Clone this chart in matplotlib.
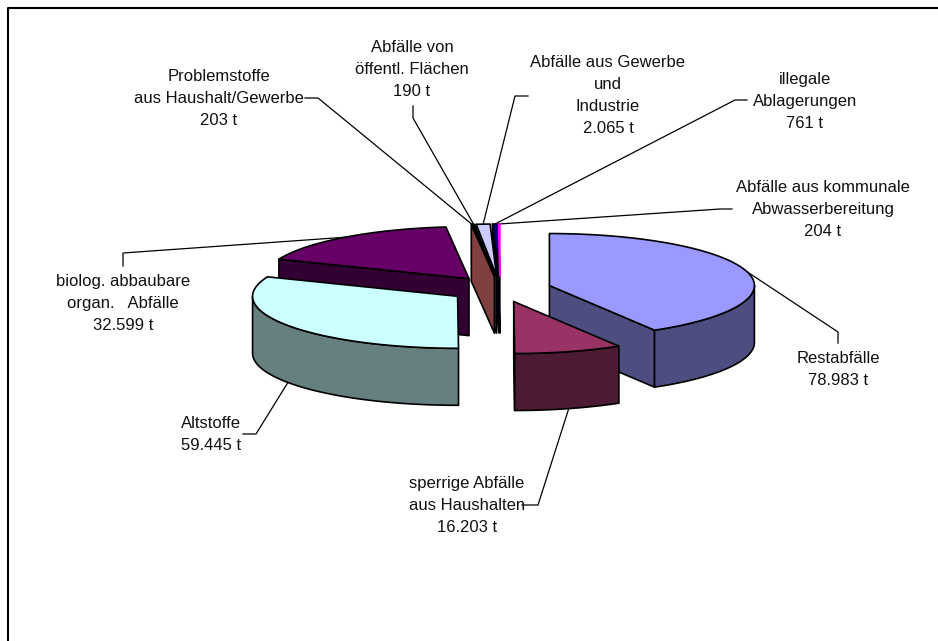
import numpy as np
import matplotlib
matplotlib.use('Agg')
import matplotlib.pyplot as plt
from matplotlib.patches import Polygon
from matplotlib.colors import to_rgb

# ===== data =====
labels = [
    'Restabfälle\n78.983 t',
    'sperrige Abfälle\naus Haushalten\n16.203 t',
    'Altstoffe\n59.445 t',
    'biolog. abbaubare\norgan.   Abfälle\n32.599 t',
    'Problemstoffe\naus Haushalt/Gewerbe\n203 t',
    'Abfälle von\nöffentl. Flächen\n190 t',
    'Abfälle aus Gewerbe\nund\nIndustrie\n2.065 t',
    'illegale\nAblagerungen\n761 t',
    'Abfälle aus kommunale\nAbwasserbereitung\n204 t',
]
tonnen = [78983, 16203, 59445, 32599, 203, 190, 2065, 761, 204]
farben = ['#9999FF', '#993366', '#CCFFFF', '#660066', '#FF8080',
          '#0066CC', '#CCCCFF', '#000080', '#FF00FF']

# ===== layout (pixels of the 938x641 picture) =====
CX, CY = 500, 289
RX, RY = 205, 52
TIEFE = 57
EXPLODE = 0.25

label_pos = [(838, 369.5), (467, 505.5), (211, 434.5), (123, 303.5), (219, 98.5),
             (412, 69.5), (608, 95.5), (805, 101.5), (823, 209.5)]
# leader: start at the label, elbow, then goes to the slice
leader_pos = [
    [(838, 343), (838, 332)],
    [(522, 505), (538, 505)],
    [(243, 434), (256, 434)],
    [(123, 266), (123, 253)],
    [(305, 98), (318, 98)],
    [(413, 106), (413, 118)],
    [(528, 96), (515, 96)],
    [(747, 100), (735, 100)],
    [(732, 209), (720, 209)],
]

plt.rcParams['font.family'] = ['Liberation Sans', 'DejaVu Sans']

fig = plt.figure(figsize=(9.38, 6.41), dpi=100)
ax = fig.add_axes([0, 0, 1, 1])
ax.set_xlim(0, 938)
ax.set_ylim(641, 0)
ax.axis('off')

# frame, only top and left are inside the picture
ax.plot([7.5, 7.5, 938], [641, 7.5, 7.5], color='black', lw=1.5, zorder=1)

grad = np.array(tonnen) / sum(tonnen) * 360
ende = np.cumsum(grad)
start = ende - grad


def tip(mid):
    m = np.radians(mid)
    return (CX + EXPLODE * RX * np.sin(m), CY - EXPLODE * RY * np.cos(m))


def rand(t, w, unten=False):
    w = np.radians(w)
    return np.column_stack([t[0] + RX * np.sin(w),
                            t[1] - RY * np.cos(w) + (TIEFE if unten else 0)])


def flaeche(pts, farbe, z, kante='black'):
    ax.add_patch(Polygon(pts, closed=True, facecolor=farbe, edgecolor=kante,
                         lw=1.2, joinstyle='round', zorder=z))


def zeichne(i, z):
    a, b = start[i], ende[i]
    t = tip((a + b) / 2)
    top = to_rgb(farben[i])
    seite = tuple(c * 0.5 for c in top)
    t_unten = (t[0], t[1] + TIEFE)

    # cut faces towards the viewer
    if 180 < a < 360:
        p = rand(t, a)[0]
        flaeche([t, p, p + [0, TIEFE], t_unten], seite, z)
    if 0 < b < 180:
        p = rand(t, b)[0]
        flaeche([t, p, p + [0, TIEFE], t_unten], seite, z)

    # outer wall, front half only
    lo, hi = max(a, 90), min(b, 270)
    if lo < hi:
        w = np.linspace(lo, hi, 80)
        flaeche(np.vstack([rand(t, w), rand(t, w[::-1], True)]), seite, z + 0.1)

    w = np.linspace(a, b, 120)
    if i == 8:
        # thinnest slice would vanish under its own black outline
        flaeche(np.vstack([[t], rand(t, w)]), top, z + 6, kante=farben[i])
    else:
        flaeche(np.vstack([[t], rand(t, w)]), top, z + 0.2)


# back to front, the thin slices last to first so the brown cut stays on top
for z, i in enumerate([3, 8, 7, 6, 5, 4, 0, 1, 2]):
    zeichne(i, 3 + z)

# labels and leader lines
for i, text in enumerate(labels):
    mid = (start[i] + ende[i]) / 2
    t = tip(mid)
    ziel = rand(t, mid, 90 < mid < 270)[0]
    pts = leader_pos[i] + [tuple(ziel)]
    ax.plot(*zip(*pts), color='black', lw=0.9, zorder=2)
    ax.text(label_pos[i][0], label_pos[i][1], text, ha='center', va='center',
            fontsize=12, color='#111111', linespacing=1.59, zorder=20)

fig.savefig('out.png', dpi=100)
